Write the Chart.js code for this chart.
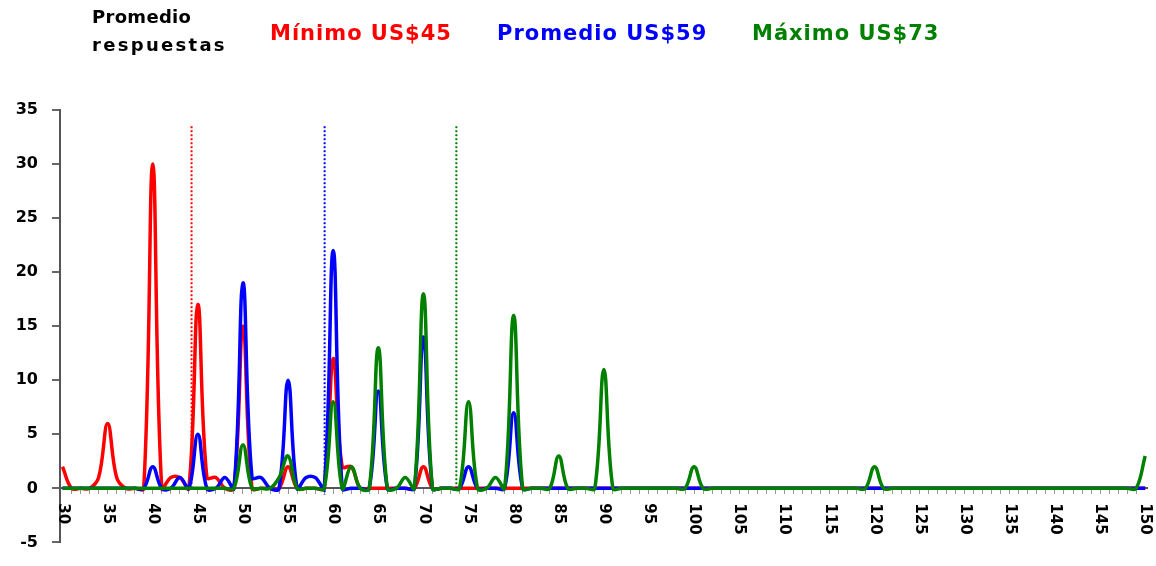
<!DOCTYPE html>
<html>
<head>
<meta charset="utf-8">
<script src="https://cdn.jsdelivr.net/npm/chart.js@4"></script>
<style>
  body { margin:0; background:#fff; }
  #wrap { position:relative; width:1156px; height:566px; }
  canvas { position:absolute; left:0; top:0; }
  .tt { position:absolute; font-family:"DejaVu Sans", Verdana, sans-serif; font-weight:bold; white-space:nowrap; }
</style>
</head>
<body>
<div id="wrap">
  <canvas id="grafico" width="1156" height="566"></canvas>
  <div class="tt" style="left:92px;top:8px;font-size:18px;line-height:18px;color:#000;letter-spacing:0.3px">Promedio</div>
  <div class="tt" style="left:92px;top:36px;font-size:18px;line-height:18px;color:#000;letter-spacing:2.3px">respuestas</div>
  <div class="tt" style="left:270px;top:23px;font-size:21px;line-height:21px;color:#ff0000;letter-spacing:1px">Mínimo US$45</div>
  <div class="tt" style="left:497px;top:23px;font-size:21px;line-height:21px;color:#0000ff;letter-spacing:1px">Promedio US$59</div>
  <div class="tt" style="left:752px;top:23px;font-size:21px;line-height:21px;color:#008000;letter-spacing:1px">Máximo US$73</div>
</div>
<script>
// precios (US$) 30..150
const precios = [
  30,31,32,33,34,35,36,37,38,39,
  40,41,42,43,44,45,46,47,48,49,
  50,51,52,53,54,55,56,57,58,59,
  60,61,62,63,64,65,66,67,68,69,
  70,71,72,73,74,75,76,77,78,79,
  80,81,82,83,84,85,86,87,88,89,
  90,91,92,93,94,95,96,97,98,99,
  100,101,102,103,104,105,106,107,108,109,
  110,111,112,113,114,115,116,117,118,119,
  120,121,122,123,124,125,126,127,128,129,
  130,131,132,133,134,135,136,137,138,139,
  140,141,142,143,144,145,146,147,148,149,
  150
];

const minimo = [
  2,0,0,0,1,6,1,0,0,0,
  30,0,1,1,0,17,1,1,0,0,
  15,0,0,0,0,2,0,0,0,0,
  12,2,2,0,0,0,0,0,0,0,
  2,0,0,0,0,0,0,0,0,0,
  0,0,0,0,0,0,0,0,0,0,
  0,0,0,0,0,0,0,0,0,0,
  0,0,0,0,0,0,0,0,0,0,
  0,0,0,0,0,0,0,0,0,0,
  0,0,0,0,0,0,0,0,0,0,
  0,0,0,0,0,0,0,0,0,0,
  0,0,0,0,0,0,0,0,0,0,
  0
];

const promedio = [
  0,0,0,0,0,0,0,0,0,0,
  2,0,0,1,0,5,0,0,1,0,
  19,1,1,0,0,10,0,1,1,0,
  22,0,0,0,0,9,0,0,0,0,
  14,0,0,0,0,2,0,0,0,0,
  7,0,0,0,0,0,0,0,0,0,
  0,0,0,0,0,0,0,0,0,0,
  0,0,0,0,0,0,0,0,0,0,
  0,0,0,0,0,0,0,0,0,0,
  0,0,0,0,0,0,0,0,0,0,
  0,0,0,0,0,0,0,0,0,0,
  0,0,0,0,0,0,0,0,0,0,
  0
];

const maximo = [
  0,0,0,0,0,0,0,0,0,0,
  0,0,0,0,0,0,0,0,0,0,
  4,0,0,0,1,3,0,0,0,0,
  8,0,2,0,0,13,0,0,1,0,
  18,0,0,0,0,8,0,0,1,0,
  16,0,0,0,0,3,0,0,0,0,
  11,0,0,0,0,0,0,0,0,0,
  2,0,0,0,0,0,0,0,0,0,
  0,0,0,0,0,0,0,0,0,0,
  2,0,0,0,0,0,0,0,0,0,
  0,0,0,0,0,0,0,0,0,0,
  0,0,0,0,0,0,0,0,0,0,
  3
];

// lineas punteadas de referencia (posicion x, desde y, hasta y)
const refX   = [44.3, 59.05, 73.65];
const refTop = [33.5, 33.5, 33.5];
const refBot = [0, -0.6, 0];
const refCol = ['#ff0000', '#0000ff', '#008000'];

const xTickLabels = [30,35,40,45,50,55,60,65,70,75,80,85,90,95,100,105,110,115,120,125,130,135,140,145,150];
const yTicks = { min: -5, max: 35, step: 5 };

const FONT = '"DejaVu Sans", Verdana, sans-serif';

const etiquetasX = {
  id: 'etiquetasX',
  afterDraw(chart) {
    const sx = chart.scales.x, sy = chart.scales.y;
    const c = chart.ctx;
    const y0 = sy.getPixelForValue(0);
    c.save();
    c.font = 'bold 15px ' + FONT;
    c.fillStyle = '#000';
    c.textAlign = 'left';
    c.textBaseline = 'middle';
    xTickLabels.forEach(function (v) {
      c.save();
      c.translate(sx.getPixelForValue(v), y0 + 15);
      c.rotate(Math.PI / 2);
      c.fillText(String(v), 0, 0);
      c.restore();
    });
    c.restore();
  }
};

function serie(label, data, color, order) {
  return {
    label: label,
    data: data,
    borderColor: color,
    backgroundColor: color,
    borderWidth: 3.5,
    pointRadius: 0,
    tension: 0.4,
    fill: false,
    order: order
  };
}

var datasets = [
  serie('Máximo', maximo, '#008000', 0),
  serie('Promedio', promedio, '#0000ff', 1),
  serie('Mínimo', minimo, '#ff0000', 2)
];
for (var i = 0; i < refX.length; i++) {
  datasets.push({
    label: 'ref' + i,
    data: [{x: refX[i], y: refTop[i]}, {x: refX[i], y: refBot[i]}],
    borderColor: refCol[i],
    borderWidth: 2,
    borderDash: [2, 2],
    pointRadius: 0,
    tension: 0,
    fill: false,
    order: 3
  });
}

new Chart(document.getElementById('grafico'), {
  type: 'line',
  data: { labels: precios, datasets: datasets },
  plugins: [etiquetasX],
  options: {
    responsive: false,
    animation: false,
    layout: { padding: { top: 110, bottom: 7, left: 0, right: 9 } },
    plugins: { legend: { display: false }, tooltip: { enabled: false } },
    scales: {
      x: {
        type: 'linear',
        position: { y: 0 },
        min: 29.72,
        max: 150.2,
        afterBuildTicks: function (ax) {
          ax.ticks = ax.ticks.filter(function (t) { return Number.isInteger(t.value) && t.value >= 30; });
        },
        afterFit: function (ax) { ax.height = 0; },
        ticks: { stepSize: 1, autoSkip: false, display: false },
        grid: { drawOnChartArea: false, tickLength: 5, color: '#999', lineWidth: 1 },
        border: { color: '#555', width: 2 }
      },
      y: {
        min: yTicks.min,
        max: yTicks.max,
        afterFit: function (ax) { ax.width = 60; },
        ticks: { stepSize: yTicks.step, color: '#000', padding: 14, font: { family: FONT, size: 16, weight: 'bold' } },
        grid: { drawOnChartArea: false, tickLength: 8, color: '#666', lineWidth: 2 },
        border: { color: '#555', width: 2 }
      }
    }
  }
});
</script>
</body>
</html>
